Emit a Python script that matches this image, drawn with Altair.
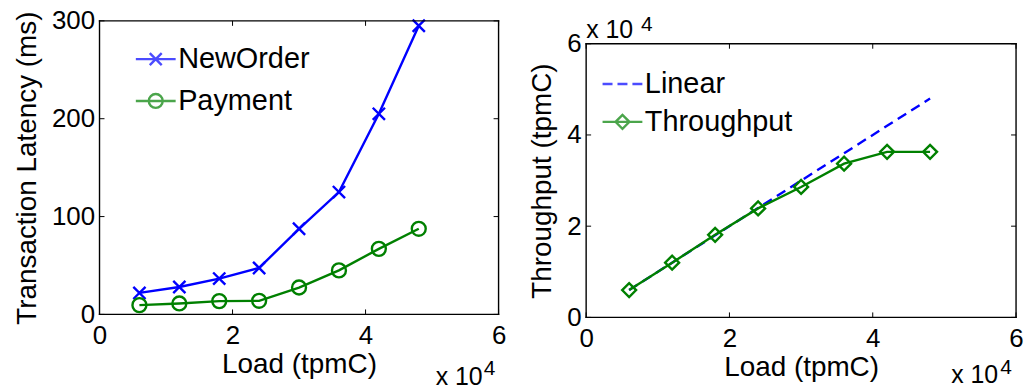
import altair as alt
import pandas as pd

# ---- data ----
load = [6000, 12000, 18000, 24000, 30000, 36000, 42000, 48000]
neworder = [22, 28, 36.6, 47.5, 87.5, 125, 205, 295]
payment = [9.5, 11.2, 13.6, 13.9, 27.5, 45, 67, 87.5]
linear = [6000, 12000, 18000, 24000, 30000, 36000, 42000, 48000]
throughput = [6000, 12000, 18100, 23900, 28600, 33700, 36300, 36300]

x_ticks = [0, 20000, 40000, 60000]
lat_ticks = [0, 100, 200, 300]
thr_ticks = [0, 20000, 40000, 60000]
exp_base = ["x 10"]
exp_power = ["4"]

FONT = "Liberation Sans"
BLUE = "#0000FF"
GREEN = "#008000"
LW = 2.4

CROSS = "M-1,-1L1,1M-1,1L1,-1"
LEG_CROSS = "M-1,0L1,0M-0.3,-0.3L0.3,0.3M-0.3,0.3L0.3,-0.3"
LEG_CIRCLE = "M-1,0L1,0M-0.35,0A0.35,0.35,0,1,1,0.35,0A0.35,0.35,0,1,1,-0.35,0"
LEG_DASH = "M-1,0L-0.5,0M-0.25,0L0.25,0M0.5,0L1,0"
LEG_DIAMOND = "M-1,0L1,0M-0.35,0L0,-0.35L0.35,0L0,0.35Z"


def xaxis():
    return alt.Axis(values=x_ticks, labelExpr="'' + datum.value/10000",
                    title="Load (tpmC)", ticks=False, domain=False, grid=False,
                    labelFontSize=26, titleFontSize=28, labelPadding=8,
                    titlePadding=2, labelFlush=False, labelOverlap=False,
                    labelColor="black", titleColor="black",
                    titleFontWeight="normal", labelFont=FONT, titleFont=FONT)


def yaxis(vals, title, expr, tpad):
    return alt.Axis(values=vals, labelExpr=expr, title=title, ticks=False,
                    domain=False, grid=False, labelFontSize=26,
                    titleFontSize=28, labelPadding=5, titlePadding=tpad,
                    labelFlush=False, labelOverlap=False, labelColor="black",
                    titleColor="black", titleFontWeight="normal",
                    labelFont=FONT, titleFont=FONT)


def legend_layer(name, path, color, lx, ly):
    return alt.Chart(pd.DataFrame({"s": [name]})).transform_filter(
        "false").mark_point(filled=False, color=color, strokeWidth=LW).encode(
        shape=alt.Shape("s:N", scale=alt.Scale(domain=[name], range=[path]),
                        legend=alt.Legend(orient="none", legendX=lx,
                                          legendY=ly, title=None, padding=0,
                                          symbolSize=1600, symbolStrokeWidth=LW,
                                          symbolStrokeColor=color,
                                          symbolFillColor="transparent",
                                          labelFontSize=29, labelFont=FONT,
                                          labelColor="black", labelOffset=1,
                                          labelLimit=400)))


def exponent(x_base, y_base, x_pow, y_pow, base_align):
    """MATLAB style 'x 10^4' scale note, drawn as two texts."""
    t1 = alt.Chart(pd.DataFrame({"t": exp_base})).mark_text(
        align=base_align, baseline="alphabetic", fontSize=25, font=FONT,
        color="black").encode(text="t:N", x=alt.value(x_base),
                              y=alt.value(y_base))
    t2 = alt.Chart(pd.DataFrame({"t": exp_power})).mark_text(
        align="left", baseline="alphabetic", fontSize=21, font=FONT,
        color="black").encode(text="t:N", x=alt.value(x_pow),
                              y=alt.value(y_pow))
    return [t1, t2]


def frame_layers(X, Y, yvals, w, top, bottom):
    xdf = pd.DataFrame({"v": x_ticks})
    ydf = pd.DataFrame({"v": yvals})
    base_x = alt.Chart(xdf).mark_rule(color="black", strokeWidth=1)
    base_y = alt.Chart(ydf).mark_rule(color="black", strokeWidth=1)
    edge = alt.Chart(pd.DataFrame({"v": [0]})).mark_rule(
        color="black", strokeWidth=1.4, strokeCap="square")
    return [
        edge.encode(x=alt.value(0), x2=alt.value(w), y=alt.value(top)),
        edge.encode(x=alt.value(0), x2=alt.value(w), y=alt.value(bottom)),
        edge.encode(x=alt.value(0), y=alt.value(top), y2=alt.value(bottom)),
        edge.encode(x=alt.value(w), y=alt.value(top), y2=alt.value(bottom)),
        base_x.encode(x=X("v"), y=alt.value(bottom), y2=alt.value(bottom - 5)),
        base_x.encode(x=X("v"), y=alt.value(top), y2=alt.value(top + 5)),
        base_y.encode(y=Y("v"), x=alt.value(0), x2=alt.value(5)),
        base_y.encode(y=Y("v"), x=alt.value(w - 5), x2=alt.value(w)),
    ]


# ---------- left panel ----------
W1, H1 = 401, 295


def X1(f):
    return alt.X(f + ":Q", scale=alt.Scale(domain=[0, 60000], nice=False),
                 axis=xaxis())


def Y1(f):
    return alt.Y(f + ":Q", scale=alt.Scale(domain=[0, 300], nice=False),
                 axis=yaxis(lat_ticks, "Transaction Latency (ms)",
                            "'' + datum.value", 10))


df1 = pd.DataFrame({"load": load, "neworder": neworder, "payment": payment})
b1 = alt.Chart(df1)

l_new = b1.mark_line(color=BLUE, strokeWidth=LW).encode(
    x=X1("load"), y=Y1("neworder"))
p_new = b1.mark_point(shape=CROSS, size=150, color=BLUE, strokeWidth=LW,
                      filled=False, opacity=1).encode(
    x=X1("load"), y=Y1("neworder"))
l_pay = b1.mark_line(color=GREEN, strokeWidth=LW).encode(
    x=X1("load"), y=Y1("payment"))
p_pay = b1.mark_point(shape="circle", size=196, color=GREEN, strokeWidth=LW,
                      filled=False, opacity=1).encode(
    x=X1("load"), y=Y1("payment"))

left = alt.layer(
    l_new, l_pay, p_new, p_pay, *frame_layers(X1, Y1, lat_ticks, W1, 0, H1),
    *exponent(W1 - 16, H1 + 71, W1 - 15, H1 + 61, "right"),
    legend_layer("NewOrder", LEG_CROSS, BLUE, 35, 17),
    legend_layer("Payment", LEG_CIRCLE, GREEN, 35, 59),
).resolve_scale(shape="independent").properties(width=W1, height=H1)

# ---------- right panel ----------
# the panel shares the left one's top edge; its frame starts TOP2 px lower
W2, H2, TOP2 = 432, 298, 23


def X2(f):
    return alt.X(f + ":Q", scale=alt.Scale(domain=[0, 60000], nice=False),
                 axis=xaxis())


def Y2(f):
    return alt.Y(f + ":Q",
                 scale=alt.Scale(domain=[0, 60000], range=[H2, TOP2], nice=False),
                 axis=yaxis(thr_ticks, "Throughput (tpmC)",
                            "'' + datum.value/10000", 10))


df2 = pd.DataFrame({"load": load, "linear": linear, "throughput": throughput})
b2 = alt.Chart(df2)

l_lin = b2.mark_line(color=BLUE, strokeWidth=LW, strokeDash=[10, 6]).encode(
    x=X2("load"), y=Y2("linear"))
l_thr = b2.mark_line(color=GREEN, strokeWidth=LW).encode(
    x=X2("load"), y=Y2("throughput"))
p_thr = b2.mark_point(shape="diamond", size=196, color=GREEN, strokeWidth=LW,
                      filled=False, opacity=1).encode(
    x=X2("load"), y=Y2("throughput"))

right = alt.layer(
    l_lin, l_thr, p_thr, *frame_layers(X2, Y2, thr_ticks, W2, TOP2, H2),
    *exponent(W2 - 18, H2 + 66, W2 - 16, H2 + 57, "right"),
    *exponent(0, TOP2 - 6, 55, TOP2 - 13, "left"),
    legend_layer("Linear", LEG_DASH, BLUE, 15, TOP2 + 19),
    legend_layer("Throughput", LEG_DIAMOND, GREEN, 15, TOP2 + 57),
).resolve_scale(shape="independent").properties(width=W2, height=H2)

chart = alt.hconcat(left, right, spacing=22).properties(
    padding={"left": 13, "top": 6, "right": 2, "bottom": 0}
).configure(background="white", font=FONT).configure_view(
    stroke="transparent")

chart.save("out.html", embed_options={"renderer": "svg", "actions": False})
